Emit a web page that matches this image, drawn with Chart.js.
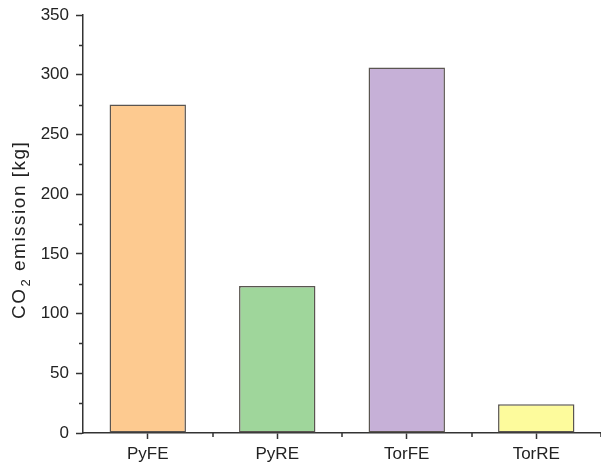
<!DOCTYPE html>
<html>
<head>
<meta charset="utf-8">
<script src="https://cdn.jsdelivr.net/npm/chart.js@4"></script>
<style>
  html, body { margin: 0; padding: 0; background: #fff; }
  #wrap { width: 601px; height: 466px; }
</style>
</head>
<body>
<div id="wrap"><canvas id="chart" width="601" height="466"></canvas></div>
<script>
const categories = ['PyFE', 'PyRE', 'TorFE', 'TorRE'];
const emissions = [275, 123, 306, 24];
const barColors = ['#FDCA90', '#9FD69B', '#C6B0D7', '#FDFB9C'];
const yMajorTicks = [0, 50, 100, 150, 200, 250, 300, 350];
const yMinorTicks = [25, 75, 125, 175, 225, 275, 325];
const yTitleParts = ['CO', '2', ' emission [kg]'];

const axisColor = '#333333';
const textColor = '#222222';
const fontFamily = '"Liberation Sans", Arial, sans-serif';
const font = { family: fontFamily, size: 17 };

// small ticks that Chart.js has no option for
const minorTicks = {
  id: 'minorTicks',
  afterDraw(chart) {
    const ctx = chart.ctx;
    const x = chart.scales.x, y = chart.scales.y;
    ctx.save();
    ctx.strokeStyle = axisColor;
    ctx.lineWidth = 1.5;
    ctx.beginPath();
    yMinorTicks.forEach(v => {
      const py = Math.round(y.getPixelForValue(v)) + 0.5;
      ctx.moveTo(x.left, py);
      ctx.lineTo(x.left - 4, py);
    });
    for (let i = 0; i < categories.length; i++) {
      const px = Math.round(x.getPixelForValue(i + 0.5));
      ctx.moveTo(px, y.bottom);
      ctx.lineTo(px, y.bottom + 4);
    }
    ctx.stroke();
    ctx.restore();
  }
};

// y title with a real subscript 2
const yTitle = {
  id: 'yTitle',
  afterDraw(chart) {
    const ctx = chart.ctx;
    ctx.save();
    ctx.translate(25, 319);
    ctx.rotate(-Math.PI / 2);
    ctx.fillStyle = textColor;
    ctx.textBaseline = 'alphabetic';
    ctx.textAlign = 'left';
    ctx.letterSpacing = '1.5px';
    ctx.font = '19px ' + fontFamily;
    ctx.fillText(yTitleParts[0], 0, 0);
    let pos = ctx.measureText(yTitleParts[0]).width + 1;
    ctx.font = '13px ' + fontFamily;
    ctx.fillText(yTitleParts[1], pos, 5);
    pos += ctx.measureText(yTitleParts[1]).width;
    ctx.font = '19px ' + fontFamily;
    ctx.fillText(yTitleParts[2], pos, 0);
    ctx.restore();
  }
};

new Chart(document.getElementById('chart'), {
  type: 'bar',
  data: {
    labels: categories,
    datasets: [{
      data: emissions,
      backgroundColor: barColors,
      borderColor: '#5a5550',
      borderWidth: 1.5,
      borderSkipped: false,
      categoryPercentage: 1,
      barPercentage: 0.59
    }]
  },
  options: {
    responsive: false,
    animation: false,
    layout: { padding: { top: 15, right: 0, left: 0, bottom: 0 } },
    plugins: {
      legend: { display: false },
      tooltip: { enabled: false }
    },
    scales: {
      x: {
        offset: true,
        afterFit(scale) { scale.height = 33; scale.paddingLeft = 0; scale.paddingRight = 0; },
        border: { color: axisColor, width: 1.5 },
        grid: {
          offset: false,
          drawOnChartArea: false,
          drawTicks: true,
          tickLength: 6,
          tickColor: axisColor,
          tickWidth: 1.5
        },
        ticks: { color: textColor, font: font, padding: 5 }
      },
      y: {
        min: 0,
        max: 350,
        afterFit(scale) { scale.width = 83; scale.paddingTop = 0; scale.paddingBottom = 0; },
        afterBuildTicks(scale) { scale.ticks = yMajorTicks.map(v => ({ value: v })); },
        border: { color: axisColor, width: 1.5 },
        grid: {
          drawOnChartArea: false,
          drawTicks: true,
          tickLength: 7,
          tickColor: axisColor,
          tickWidth: 1.5
        },
        ticks: { color: textColor, font: font, padding: 7 }
      }
    }
  },
  plugins: [minorTicks, yTitle]
});
</script>
</body>
</html>
